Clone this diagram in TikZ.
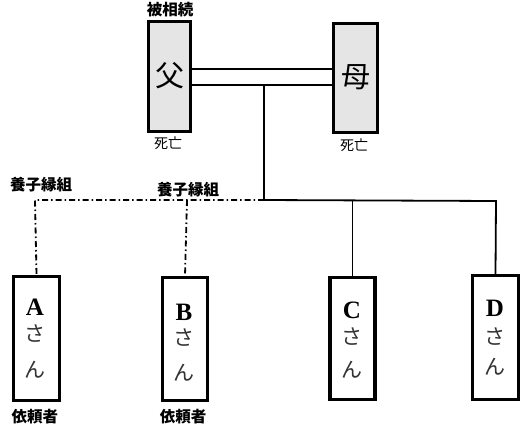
\documentclass[tikz,border=0pt]{standalone}
\usepackage{fontspec}
\setmainfont{Liberation Serif}
\newfontfamily\jp{Noto Sans CJK JP}
\begin{document}
\begin{tikzpicture}[x=1pt,y=-1pt,
  parent/.style={draw,line width=3.2pt,fill=black!10,inner sep=0pt},
  child/.style={draw,line width=3.2pt,fill=white,inner sep=0pt},
  conn/.style={line width=1.8pt},
  adopt/.style={line width=1.8pt,dash pattern=on 6pt off 3pt on 1.5pt off 3pt},
  lab/.style={font=\jp\bfseries\fontsize{15.5}{15.5}\selectfont,inner sep=0pt},
  small/.style={font=\jp\fontsize{14}{14}\selectfont,inner sep=0pt},
  big/.style={font=\jp\fontsize{29}{29}\selectfont,inner sep=0pt},
  letter/.style={font=\bfseries\fontsize{25}{25}\selectfont,inner sep=0pt},
  kana/.style={font=\jp\fontsize{21}{21}\selectfont,inner sep=0pt,text=black!80}]
\useasboundingbox (0,0) rectangle (530,432);
% parents
\node[parent,minimum width=42pt,minimum height=110pt] (f) at (169.5,76.5) {};
\node[parent,minimum width=44pt,minimum height=109pt] (mo) at (355.5,78) {};
\node[big] (ft) at (169.5,76) {父};
\node[big] (mt) at (356,77) {母};
\node[lab] (hs) at (170,10) {被相続};
\node[small] (d1) at (168,143) {死亡};
\node[small] (d2) at (354,145) {死亡};
% double marriage line
\draw[conn] (f.east |- 0,69) -- (mo.west |- 0,69);
\draw[conn] (f.east |- 0,85) -- (mo.west |- 0,85);
\coordinate (m) at (264,85);
\coordinate (j) at (264,200);
\coordinate (jr) at (496,201);
\coordinate (jl) at (35,200);
\coordinate (jb) at (187,200);
% children
\node[child,minimum width=46pt,minimum height=124pt] (a) at (36.5,338.5) {};
\node[child,minimum width=45pt,minimum height=123pt] (b) at (185,339) {};
\node[child,minimum width=45pt,minimum height=122pt] (c) at (352.5,338.5) {};
\node[child,minimum width=46pt,minimum height=124pt] (d) at (495.5,337.5) {};
\draw[conn] (m) -- (j) -- (jr) -- (d.north);
\draw[conn] (c.north |- j) -- (c.north);
\draw[adopt] (j) -- (jl) -- (a.north);
\draw[adopt] (jb) -- (b.north);
% texts in children
\node[letter] (at) at (35,307) {A};
\node[kana] (a1) at (35,334) {さ};
\node[kana] (a2) at (35,370) {ん};
\node[letter] (bt) at (184,312) {B};
\node[kana] (b1) at (184,338) {さ};
\node[kana] (b2) at (184,373) {ん};
\node[letter] (ct) at (352,310) {C};
\node[kana] (c1) at (352,337) {さ};
\node[kana] (c2) at (352,370) {ん};
\node[letter] (dt) at (495,308) {D};
\node[kana] (d1a) at (495,337) {さ};
\node[kana] (d2a) at (495,367) {ん};
% labels
\node[lab] (y1) at (41,185) {養子縁組};
\node[lab] (y2) at (188,190) {養子縁組};
\node[lab] (i1) at (35,417) {依頼者};
\node[lab] (i2) at (183,417) {依頼者};
\end{tikzpicture}
\end{document}
